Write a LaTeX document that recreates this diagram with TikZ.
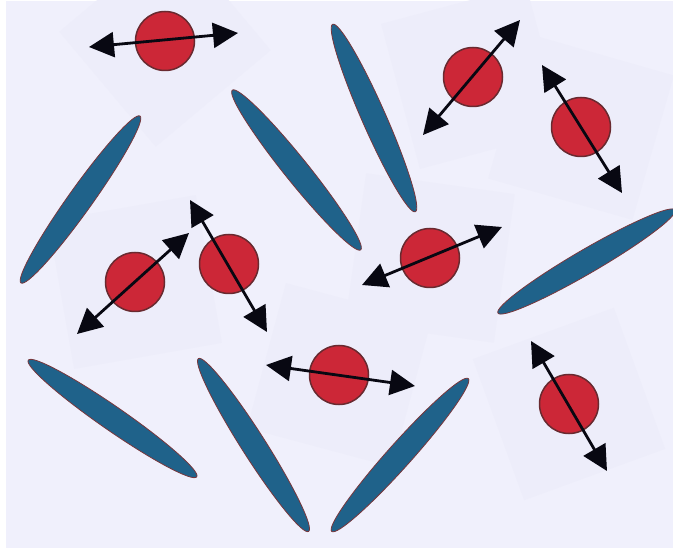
\documentclass[tikz,border=0pt]{standalone}
\usetikzlibrary{arrows.meta,shapes.geometric}
\definecolor{bgc}{RGB}{240,240,252}
\definecolor{patchc}{RGB}{237,237,250}
\definecolor{rodc}{RGB}{31,98,138}
\definecolor{rodedge}{RGB}{120,55,60}
\definecolor{ballc}{RGB}{204,39,55}
\definecolor{balledge}{RGB}{105,42,48}
\definecolor{arrc}{RGB}{8,8,18}
\tikzset{
  rod/.style={ellipse, draw=rodedge, line width=0.8pt, fill=rodc, minimum width=205pt, minimum height=24pt, inner sep=0pt},
  ball/.style={circle, draw=balledge, line width=1.5pt, fill=ballc, minimum size=59pt, inner sep=0pt},
  patch/.style={rectangle, fill=patchc, minimum size=150pt, inner sep=0pt},
  dipole/.style={draw=arrc, line width=2.8pt, {Triangle[length=25pt,width=25pt]}-{Triangle[length=25pt,width=25pt]}}
}
\begin{document}
\begin{tikzpicture}[x=1pt,y=-1pt]
\useasboundingbox (0,0) rectangle (673,548);
\clip (0,0) rectangle (673,548);
\fill[white] (0,0) rectangle (673,548);
\fill[bgc] (6,1) rectangle (673,548);
% faint patches
\node[patch, rotate=40] (p1) at (165,41) {};
\node[patch, rotate=15] (p2) at (473,77) {};
\node[patch, rotate=-16] (p3) at (581,127) {};
\node[patch, rotate=10] (p4) at (135,282) {};
\node[patch, rotate=-8] (p6) at (430,258) {};
\node[patch, rotate=-15] (p7) at (339,375) {};
\node[patch, rotate=20] (p8) at (569,404) {};
% rods
\node[rod, rotate=54.5] (rA) at (80.5,199.5) {};
\node[rod, rotate=-51.2] (rB) at (296.5,170) {};
\node[rod, rotate=-66.2] (rC) at (374,118) {};
\node[rod, rotate=30.2] (rD) at (586.5,261.5) {};
\node[rod, rotate=-34.7] (rE) at (112.5,418.5) {};
\node[rod, rotate=-57.5] (rF) at (253.5,445) {};
\node[rod, rotate=48.2] (rG) at (400,455) {};
% balls
\node[ball] (b1) at (165,41) {};
\node[ball] (b2) at (473,77) {};
\node[ball] (b3) at (581,127) {};
\node[ball] (b4) at (135,282) {};
\node[ball] (b5) at (229,264) {};
\node[ball] (b6) at (430,258) {};
\node[ball] (b7) at (339,375) {};
\node[ball] (b8) at (569,404) {};
% arrow ends
\coordinate (a1) at (89,47);  \coordinate (e1) at (238,33);
\coordinate (a2) at (423,135); \coordinate (e2) at (520,20);
\coordinate (a3) at (542,65);  \coordinate (e3) at (622,193);
\coordinate (a4) at (77,334);  \coordinate (e4) at (189,233);
\coordinate (a5) at (190,200); \coordinate (e5) at (267,332);
\coordinate (a6) at (362,285); \coordinate (e6) at (502,227);
\coordinate (a7) at (266,365); \coordinate (e7) at (415,386);
\coordinate (a8) at (531,341); \coordinate (e8) at (607,471);
\draw[dipole] (a1) -- (e1);
\draw[dipole] (a2) -- (e2);
\draw[dipole] (a3) -- (e3);
\draw[dipole] (a4) -- (e4);
\draw[dipole] (a5) -- (e5);
\draw[dipole] (a6) -- (e6);
\draw[dipole] (a7) -- (e7);
\draw[dipole] (a8) -- (e8);
\end{tikzpicture}
\end{document}
